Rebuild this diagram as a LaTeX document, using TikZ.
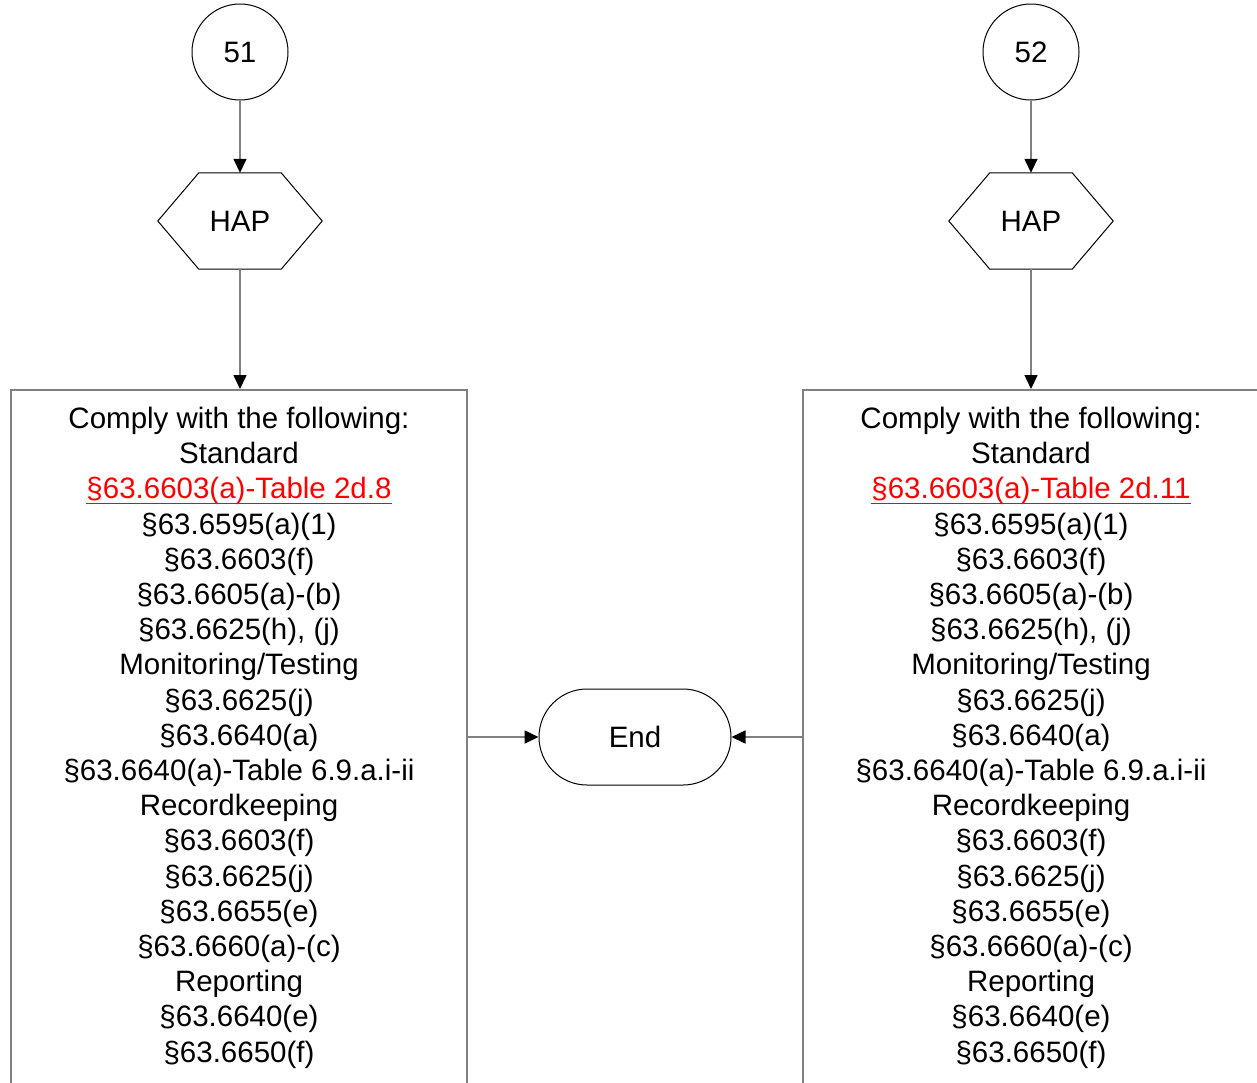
\documentclass[tikz,border=0pt]{standalone}
\usepackage{fontspec}
\setmainfont{Liberation Sans}
\usetikzlibrary{arrows.meta,shapes.misc}
\definecolor{linegray}{HTML}{808080}
\definecolor{linkred}{HTML}{FF0000}
\newcommand\redul[1]{\setbox0\hbox{#1}\rlap{\rule[-5.5pt]{\wd0}{1.6pt}}\box0}
\tikzset{
  shapeline/.style={draw=black, line width=1pt},
  conn/.style={draw=linegray, line width=1.6pt, -{Triangle[length=14pt,width=13pt,color=black]}},
  bigbox/.style={draw=linegray, line width=2pt, minimum width=456pt, minimum height=760pt, anchor=north, inner sep=0pt},
  txtline/.style={anchor=base, inner sep=0pt, text=black},
  numcircle/.style={shapeline, circle, minimum size=96pt, inner sep=0pt},
  hexbox/.style={minimum width=164pt, minimum height=96pt, inner sep=0pt},
  terminal/.style={shapeline, rounded rectangle, minimum width=192pt, minimum height=96pt, inner sep=0pt},
}
\newcommand\boxlines[3]{%
  \foreach \t [count=\i] in {{Comply with the following:}, Standard, {\textcolor{linkred}{\redul{#3}}}, {§63.6595(a)(1)}, {§63.6603(f)}, {§63.6605(a)-(b)}, {§63.6625(h), (j)}, {Monitoring/Testing}, {§63.6625(j)}, {§63.6640(a)}, {§63.6640(a)-Table 6.9.a.i-ii}, Recordkeeping, {§63.6603(f)}, {§63.6625(j)}, {§63.6655(e)}, {§63.6660(a)-(c)}, Reporting, {§63.6640(e)}, {§63.6650(f)}}
  { \node[txtline] (#2\i) at (#1, {428.5+35.2*(\i-1)}) {\t}; }%
}
\newcommand\hexdraw[1]{%
  \draw[shapeline] (#1.west) -- ([xshift=41pt]#1.north west) -- ([xshift=-41pt]#1.north east) -- (#1.east) -- ([xshift=-41pt]#1.south east) -- ([xshift=41pt]#1.south west) -- cycle;%
}
\begin{document}
\begin{tikzpicture}[x=1pt, y=-1pt, font=\fontsize{29.5}{35.2}\selectfont]
\useasboundingbox (0,0) rectangle (1257,1082);
\clip (0,0) rectangle (1257,1082);
\fill[white] (0,0) rectangle (1257,1082);
% left column
\node[numcircle] (c51) at (240,52) {51};
\node[hexbox] (h51) at (240,221) {HAP};
\hexdraw{h51}
\node[bigbox] (boxL) at (239,389) {};
\boxlines{239}{L}{§63.6603(a)-Table 2d.8}
% right column
\node[numcircle] (c52) at (1031,52) {52};
\node[hexbox] (h52) at (1031,221) {HAP};
\hexdraw{h52}
\node[bigbox] (boxR) at (1031,389) {};
\boxlines{1031}{R}{§63.6603(a)-Table 2d.11}
% end
\node[terminal] (endN) at (635,737) {End};
% connectors
\draw[conn] (c51) -- (h51);
\draw[conn] (h51.south) -- (h51.south |- boxL.north);
\draw[conn] (c52) -- (h52);
\draw[conn] (h52.south) -- (h52.south |- boxR.north);
\draw[conn] (boxL.east |- endN) -- (endN);
\draw[conn] (boxR.west |- endN) -- (endN);
\end{tikzpicture}
\end{document}
